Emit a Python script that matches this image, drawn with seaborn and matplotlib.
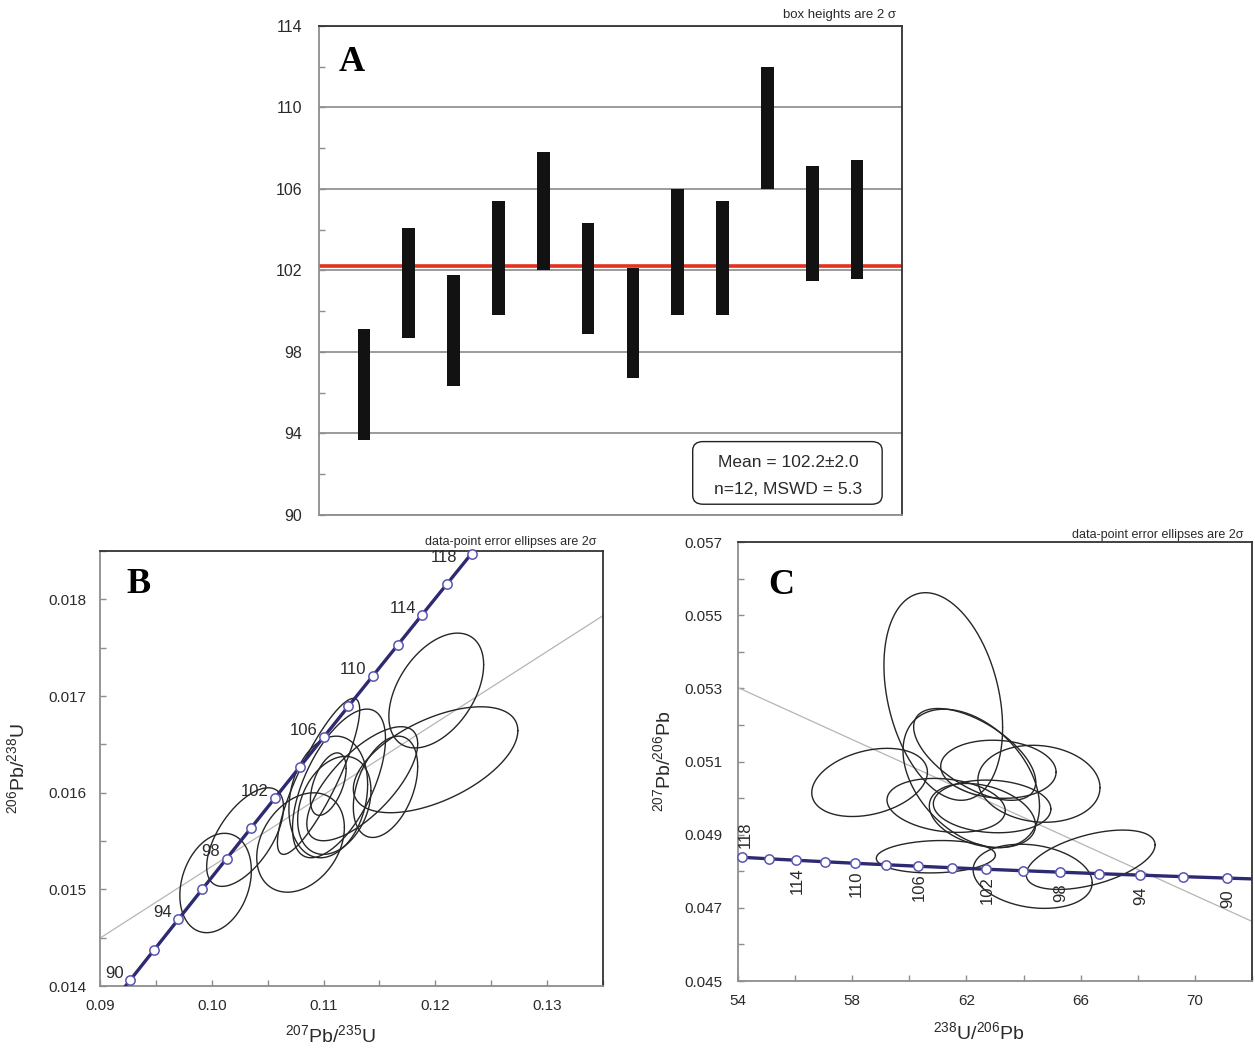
import numpy as np
import pandas as pd
import matplotlib
matplotlib.use("Agg")
import matplotlib.pyplot as plt
from matplotlib.patches import FancyBboxPatch
from matplotlib.ticker import FormatStrFormatter
import seaborn as sns

# ---------------- Panel A: individual spot ages (Ma), 2-sigma half heights
spot = list(range(1, 13))
age_ma = [96.4, 101.4, 99.05, 102.6, 104.9, 101.6, 99.4, 102.9, 102.6, 109.0, 104.3, 104.5]
age_err2s = [2.7, 2.7, 2.7, 2.8, 2.9, 2.7, 2.7, 3.1, 2.8, 3.0, 2.8, 2.9]
mean_age = 102.2
mean_text = ["Mean = 102.2\u00b12.0", "n=12, MSWD = 5.3"]
a_yticks = [90, 94, 98, 102, 106, 110, 114]

# ---------------- Concordia reference ages (Ma) and ratios
conc_age = [88, 90, 92, 94, 96, 98, 100, 102, 104, 106, 108, 110, 112, 114, 116, 118, 120]
conc_207_235 = [0.090533, 0.092683, 0.094838, 0.096996, 0.099159, 0.101326, 0.103498,
                0.105674, 0.107854, 0.110038, 0.112226, 0.114419, 0.116617, 0.118818,
                0.121024, 0.123234, 0.125449]
conc_206_238 = [0.0137446, 0.0140592, 0.0143738, 0.0146886, 0.0150034, 0.0153184, 0.0156334,
                0.0159486, 0.0162638, 0.0165792, 0.0168946, 0.0172102, 0.0175258, 0.0178415,
                0.0181574, 0.0184733, 0.0187893]
tw_238_206 = [72.756, 71.128, 69.571, 68.080, 66.652, 65.282, 63.966, 62.701, 61.486,
              60.316, 59.191, 58.105, 57.059, 56.049, 55.074, 54.132, 53.222]
tw_207_206 = [0.047772, 0.047813, 0.047853, 0.047894, 0.047934, 0.047975, 0.048015, 0.048055,
              0.048096, 0.048137, 0.048178, 0.048218, 0.048259, 0.048300, 0.048341, 0.048382,
              0.048423]
marked_ages = list(range(90, 119, 2))
labelled_ages = [90, 94, 98, 102, 106, 110, 114, 118]

# ---------------- Panel B: Wetherill data-point ellipses (centre, 2s half-widths, rho)
b_x = [0.10034, 0.10298, 0.10794, 0.10955, 0.11138, 0.11042, 0.11042, 0.11096, 0.11346, 0.11554, 0.12008, 0.12002]
b_y = [0.015066, 0.015541, 0.015485, 0.016169, 0.016096, 0.015956, 0.016089, 0.015869, 0.016093, 0.016061, 0.017057, 0.016341]
b_sx = [0.00320, 0.00344, 0.00392, 0.00368, 0.00416, 0.00352, 0.00160, 0.00328, 0.00496, 0.00288, 0.00424, 0.00736]
b_sy = [0.000514, 0.000510, 0.000514, 0.000807, 0.000769, 0.000629, 0.000323, 0.000507, 0.000590, 0.000524, 0.000594, 0.000548]
b_rho = [0.25, 0.60, 0.30, 0.85, 0.60, 0.20, 0.50, 0.30, 0.70, 0.40, 0.45, 0.55]
b_fit_x = [0.09, 0.135]
b_fit_y = [0.014496, 0.017832]
b_xticks = [0.09, 0.10, 0.11, 0.12, 0.13]
b_yticks = [0.014, 0.015, 0.016, 0.017, 0.018]

# ---------------- Panel C: Tera-Wasserburg data-point ellipses
c_x = [61.19, 58.61, 62.29, 62.17, 63.12, 64.54, 61.29, 62.90, 62.56, 60.93, 64.32, 66.35]
c_y = [0.052777, 0.050428, 0.051194, 0.050538, 0.050788, 0.050391, 0.049800, 0.049772, 0.049523, 0.048397, 0.047862, 0.048314]
c_sx = [2.078, 2.025, 2.138, 2.390, 2.020, 2.138, 2.071, 2.058, 1.859, 2.085, 2.085, 2.257]
c_sy = [0.002838, 0.000932, 0.001255, 0.001892, 0.000794, 0.001052, 0.000738, 0.000720, 0.000877, 0.000443, 0.000877, 0.000812]
c_rho = [-0.30, 0.30, -0.60, -0.40, -0.10, -0.10, -0.20, -0.10, -0.30, 0.10, -0.20, 0.50]
c_fit_x = [54.0, 72.0]
c_fit_y = [0.05302, 0.04663]
c_xticks = [54, 58, 62, 66, 70]
c_yticks = [0.045, 0.047, 0.049, 0.051, 0.053, 0.055, 0.057]

sns.set_theme(style="white")
plt.rcParams["font.family"] = ["Liberation Sans", "DejaVu Sans"]
plt.rcParams["mathtext.fontset"] = "custom"
plt.rcParams["mathtext.rm"] = "Liberation Sans"
plt.rcParams["mathtext.it"] = "Liberation Sans:italic"
plt.rcParams["mathtext.bf"] = "Liberation Sans:bold"

TICK_FS = 11
TXT = "#2a2a2a"
GRAY_SPINE = "#8e8e8e"
DARK_SPINE = "#333333"
CONC_LINE = "#2d2a72"
CONC_EDGE = "#5a55b0"

fig = plt.figure(figsize=(12.55, 10.51), dpi=100)
axA = fig.add_axes([0.2542, 0.5100, 0.4645, 0.4655])
axB = fig.add_axes([0.0797, 0.0618, 0.4008, 0.4139])
axC = fig.add_axes([0.5880, 0.0666, 0.4096, 0.4177])


def style_spines(ax):
    ax.spines["left"].set_color(GRAY_SPINE)
    ax.spines["bottom"].set_color(GRAY_SPINE)
    ax.spines["top"].set_color(DARK_SPINE)
    ax.spines["right"].set_color(DARK_SPINE)
    for s in ax.spines.values():
        s.set_linewidth(1.3)
        s.set_visible(True)


def panel_letter(ax, letter, x, y):
    ax.text(x, y, letter, transform=ax.transAxes, ha="left", va="center",
            family="Liberation Serif", fontweight="bold", fontsize=26, color="black", zorder=10)


def minor_between(ticks):
    return [(a + b) / 2 for a, b in zip(ticks[:-1], ticks[1:])]


def ellipse_curve(cx, cy, sx, sy, rho, n=200):
    t = np.linspace(0, 2 * np.pi, n)
    ex = cx + sx * np.cos(t)
    ey = cy + sy * (rho * np.cos(t) + np.sqrt(1 - rho ** 2) * np.sin(t))
    return ex, ey


# ======================= Panel A
dfA = pd.DataFrame({"spot": spot, "age": age_ma, "err": age_err2s})
axA.set_xlim(0, 13)
axA.set_ylim(90, 114)
axA.set_yticks(a_yticks)
axA.set_yticks(minor_between(a_yticks), minor=True)
axA.grid(axis="y", which="major", color="#8a8a8a", lw=1.2, zorder=0)
axA.axhline(mean_age, color="#e3301f", lw=2.6, zorder=1)
axA.bar(dfA["spot"], 2 * dfA["err"], bottom=dfA["age"] - dfA["err"], width=0.28,
        color="#121212", edgecolor="none", zorder=3)
axA.set_xticks([])
axA.tick_params(axis="y", which="both", direction="in", left=True, length=4, width=1,
                color=GRAY_SPINE, labelsize=TICK_FS + 0.5, labelcolor=TXT, pad=12)
style_spines(axA)
panel_letter(axA, "A", 0.033, 0.925)
axA.text(0.99, 1.022, "box heights are 2 \u03c3", transform=axA.transAxes,
         ha="right", va="center", fontsize=9.5, color=TXT)
box = FancyBboxPatch((0.641, 0.022), 0.325, 0.128, transform=axA.transAxes,
                     boxstyle="round,pad=0,rounding_size=0.018", facecolor="white",
                     edgecolor="#222222", lw=1.0, zorder=5)
axA.add_patch(box)
axA.text(0.805, 0.108, mean_text[0], transform=axA.transAxes, ha="center", va="center",
         fontsize=12.5, color=TXT, zorder=6)
axA.text(0.805, 0.053, mean_text[1], transform=axA.transAxes, ha="center", va="center",
         fontsize=12.5, color=TXT, zorder=6)

# ======================= Panel B (Wetherill concordia)
dfB = pd.DataFrame({"age": conc_age, "x": conc_207_235, "y": conc_206_238})
axB.plot(b_fit_x, b_fit_y, color="#b5b5b5", lw=0.9, zorder=1)
for cx, cy, sx, sy, r in zip(b_x, b_y, b_sx, b_sy, b_rho):
    ex, ey = ellipse_curve(cx, cy, sx, sy, r)
    axB.plot(ex, ey, color="#262626", lw=1.0, zorder=2)
sns.lineplot(data=dfB, x="x", y="y", sort=False, ax=axB, color=CONC_LINE, lw=2.4, zorder=3)
mB = dfB[dfB["age"].isin(marked_ages)]
sns.scatterplot(data=mB, x="x", y="y", ax=axB, s=45, color="white", edgecolor=CONC_EDGE,
                linewidth=1.1, zorder=4, clip_on=False)
for _, row in dfB[dfB["age"].isin(labelled_ages)].iterrows():
    off = (-10, -3) if row["age"] == 118 else (-4.5, 4.8)
    axB.annotate(f"{int(row['age'])}", (row["x"], row["y"]), xytext=off,
                 textcoords="offset points", ha="right", va="center",
                 fontsize=12, color=TXT, zorder=6)
axB.set_xticks(b_xticks)
axB.set_xticks(minor_between(b_xticks) + [0.135], minor=True)
axB.xaxis.set_major_formatter(FormatStrFormatter("%.2f"))
axB.set_yticks(b_yticks)
axB.set_yticks(minor_between(b_yticks) + [0.0185], minor=True)
axB.yaxis.set_major_formatter(FormatStrFormatter("%.3f"))
axB.set_xlim(0.09, 0.135)
axB.set_ylim(0.014, 0.0185)
axB.tick_params(which="both", direction="in", bottom=True, left=True, length=4, width=1,
                color=GRAY_SPINE, labelsize=TICK_FS, labelcolor=TXT)
axB.tick_params(axis="x", pad=9)
axB.tick_params(axis="y", pad=10)
axB.set_xlabel(r"$^{207}$Pb/$^{235}$U", fontsize=14, color=TXT)
axB.set_ylabel(r"$^{206}$Pb/$^{238}$U", fontsize=14, color=TXT)
axB.xaxis.set_label_coords(0.457, -0.088)
axB.yaxis.set_label_coords(-0.143, 0.5)
style_spines(axB)
panel_letter(axB, "B", 0.052, 0.922)
axB.text(0.988, 1.021, "data-point error ellipses are 2\u03c3", transform=axB.transAxes,
         ha="right", va="center", fontsize=9, color=TXT)

# ======================= Panel C (Tera-Wasserburg)
dfC = pd.DataFrame({"age": conc_age, "x": tw_238_206, "y": tw_207_206})
axC.plot(c_fit_x, c_fit_y, color="#b5b5b5", lw=0.9, zorder=1)
for cx, cy, sx, sy, r in zip(c_x, c_y, c_sx, c_sy, c_rho):
    ex, ey = ellipse_curve(cx, cy, sx, sy, r)
    axC.plot(ex, ey, color="#262626", lw=1.0, zorder=2)
sns.lineplot(data=dfC, x="x", y="y", sort=False, ax=axC, color=CONC_LINE, lw=2.4, zorder=3)
mC = dfC[dfC["age"].isin(marked_ages)]
sns.scatterplot(data=mC, x="x", y="y", ax=axC, s=45, color="white", edgecolor=CONC_EDGE,
                linewidth=1.1, zorder=4, clip_on=False)
for _, row in dfC[dfC["age"].isin(labelled_ages)].iterrows():
    off = (2.5, 16) if row["age"] == 118 else (0.5, -15)
    axC.annotate(f"{int(row['age'])}", (row["x"], row["y"]), xytext=off,
                 textcoords="offset points", ha="center", va="center", rotation=90,
                 fontsize=12, color=TXT, zorder=6)
axC.set_xticks(c_xticks)
axC.set_xticks(minor_between(c_xticks) + [72], minor=True)
axC.set_yticks(c_yticks)
axC.set_yticks(minor_between(c_yticks), minor=True)
axC.yaxis.set_major_formatter(FormatStrFormatter("%.3f"))
axC.set_xlim(54, 72)
axC.set_ylim(0.045, 0.057)
axC.tick_params(which="both", direction="in", bottom=True, left=True, length=4, width=1,
                color=GRAY_SPINE, labelsize=TICK_FS, labelcolor=TXT)
axC.tick_params(axis="x", pad=9)
axC.tick_params(axis="y", pad=11)
axC.set_xlabel(r"$^{238}$U/$^{206}$Pb", fontsize=14, color=TXT)
axC.set_ylabel(r"$^{207}$Pb/$^{206}$Pb", fontsize=14, color=TXT)
axC.xaxis.set_label_coords(0.469, -0.092)
axC.yaxis.set_label_coords(-0.125, 0.5)
style_spines(axC)
panel_letter(axC, "C", 0.058, 0.90)
axC.text(0.983, 1.016, "data-point error ellipses are 2\u03c3", transform=axC.transAxes,
         ha="right", va="center", fontsize=9, color=TXT)

fig.savefig("out.png", dpi=100)
